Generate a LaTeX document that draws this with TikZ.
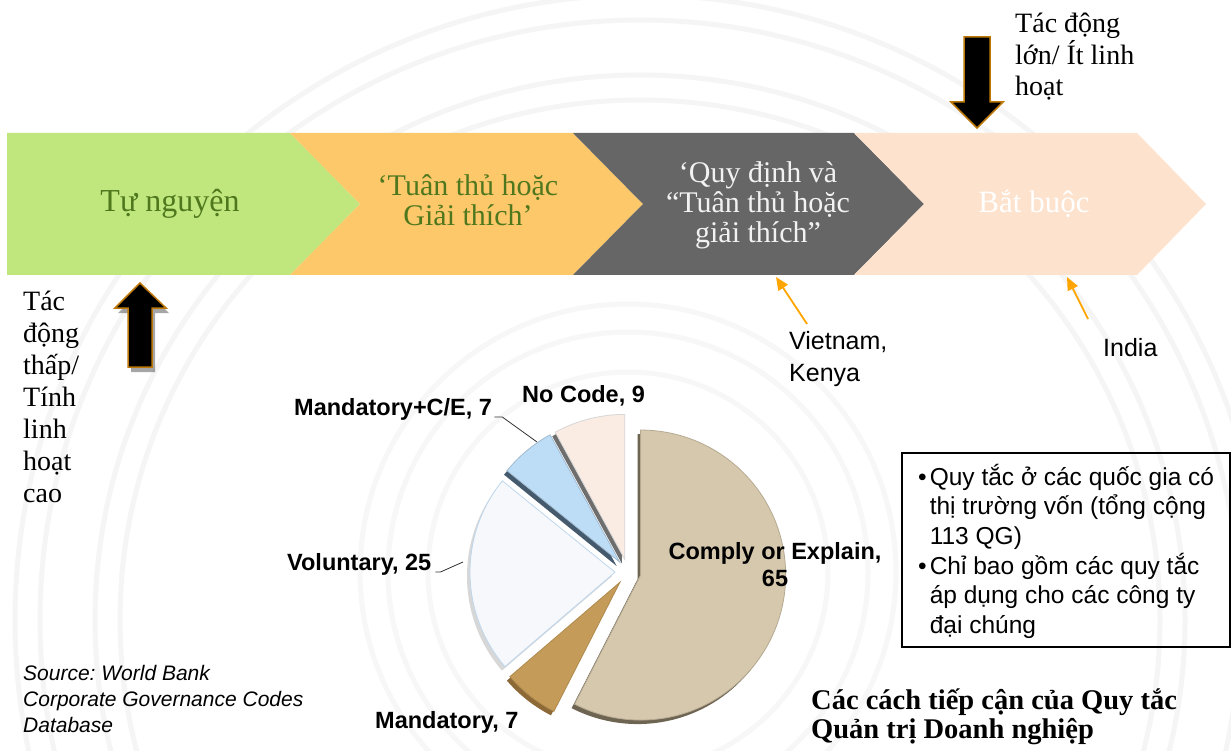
\documentclass[tikz,border=0pt]{standalone}
\usepackage{fontspec}
\setmainfont{Liberation Serif}
\setsansfont{Liberation Sans}
\usetikzlibrary{arrows.meta}
\frenchspacing
\definecolor{cgreen}{RGB}{192,231,126}
\definecolor{corange}{RGB}{253,200,106}
\definecolor{cgray}{RGB}{102,102,102}
\definecolor{cpeach}{RGB}{253,227,206}
\definecolor{gtext}{RGB}{79,120,30}
\definecolor{arrowborder}{RGB}{190,120,10}
\definecolor{lblarrow}{RGB}{255,165,0}
\definecolor{comply}{RGB}{214,200,173}
\definecolor{complyside}{RGB}{110,100,82}
\definecolor{mand}{RGB}{196,155,88}
\definecolor{mandside}{RGB}{140,105,55}
\definecolor{vol}{RGB}{246,248,251}
\definecolor{volborder}{RGB}{190,215,238}
\definecolor{volside}{RGB}{215,215,215}
\definecolor{mce}{RGB}{189,220,246}
\definecolor{mceside}{RGB}{70,90,110}
\definecolor{nocode}{RGB}{250,235,227}
\definecolor{nocodeborder}{RGB}{215,215,215}
\definecolor{nocodeside}{RGB}{110,110,110}
\newcommand\pieshadow[3]{%
  \pgfmathsetmacro\pmid{(#1+#2)/2}%
  \fill[#3, shift={(-3,-4)}] (\pmid:13) -- ++(#1:145) arc[start angle=#1,end angle=#2,radius=145] -- cycle;}
\newcommand\pieface[4]{%
  \pgfmathsetmacro\pmid{(#1+#2)/2}%
  \filldraw[fill=#3, draw=#4, line width=0.8] (\pmid:13) -- ++(#1:145) arc[start angle=#1,end angle=#2,radius=145] -- cycle;}
\begin{document}
\begin{tikzpicture}[x=1pt,y=-1pt,
  serif/.style={inner sep=0pt, font=\fontsize{30}{30}\selectfont},
  sidetext/.style={inner sep=0pt, anchor=west, align=left, font=\fontsize{28}{32}\selectfont},
  plabel/.style={inner sep=0pt, font=\sffamily\bfseries\fontsize{23.5}{27}\selectfont},
  clabel/.style={inner sep=0pt, anchor=west, align=left, font=\sffamily\fontsize{25}{32}\selectfont},
  bigarrow/.style={fill=black, draw=arrowborder, line width=1.5pt, line join=miter},
  pointer/.style={draw=lblarrow, line width=1.8pt, -{Triangle[length=13pt,width=11pt]}},
  leader/.style={draw=black!80, line width=0.8pt},
  ring/.style={black!4, line width=5pt}]
\useasboundingbox (0,0) rectangle (1231,751);
\fill[white] (0,0) rectangle (1231,751);
% faint background rings
\begin{scope}
  \clip (0,0) rectangle (1231,751);
  \foreach \r in {520,545,600,625}
    \draw[ring] (640,620) circle[radius=\r];
  \foreach \r in {200,240,268}
    \draw[ring, black!3] (628,572) circle[radius=\r];
\end{scope}
% chevrons
\fill[cgreen] (7,133) -- (290,133) -- (360,204) -- (290,275) -- (7,275) -- cycle;
\fill[corange] (290,133) -- (573,133) -- (643,204) -- (573,275) -- (290,275) -- (360,204) -- cycle;
\fill[cgray] (573,133) -- (854,133) -- (924,204) -- (854,275) -- (573,275) -- (643,204) -- cycle;
\fill[cpeach] (854,133) -- (1137,133) -- (1206,204) -- (1137,275) -- (854,275) -- (924,204) -- cycle;
\node[serif, text=gtext, font=\fontsize{32}{30}\selectfont] (s1) at (170,204) {Tự nguyện};
\node[serif, text=gtext, align=center] (s2) at (468,200) {‘Tuân thủ hoặc\\Giải thích’};
\node[serif, text=white!95!black, align=center] (s3) at (758,205) {‘Quy định và\\“Tuân thủ hoặc\\giải thích”};
\node[serif, text=white, font=\fontsize{31}{30}\selectfont] (s4) at (1034,204) {Bắt buộc};
% big arrows
\filldraw[bigarrow] (964,37) -- (990,37) -- (990,102) -- (1003,102) -- (977,128) -- (951,102) -- (964,102) -- cycle;
\fill[black, opacity=0.35] (143,288) -- (169,313) -- (155,313) -- (155,372) -- (131,372) -- (131,313) -- (118,313) -- cycle;
\filldraw[bigarrow] (140,283) -- (166,308) -- (152,308) -- (152,367) -- (128,367) -- (128,308) -- (115,308) -- cycle;
\node[sidetext, font=\fontsize{28}{31.5}\selectfont] (high) at (1015,57) {Tác động\\lớn/ Ít linh\\hoạt};
\node[sidetext] (low) at (23,397) {Tác\\động\\thấp/\\Tính\\linh\\hoạt\\cao};
% country pointers
\node[clabel] (vk) at (789,359) {Vietnam,\\Kenya};
\node[clabel] (india) at (1103,348) {India};
\coordinate (vkTail) at (807,324);
\coordinate (vkHead) at (776,277);
\coordinate (inTail) at (1088,319);
\coordinate (inHead) at (1067,277);
\draw[pointer] (vkTail) -- (vkHead);
\draw[pointer] (inTail) -- (inHead);
% pie
\begin{scope}[shift={(628,572)}, x=1pt, y=1pt]
  \pieshadow{90}{-117.08}{complyside}
  \pieshadow{-117.08}{-139.38}{mandside}
  \pieshadow{-139.38}{-219.03}{volside}
  \pieshadow{-219.03}{-241.33}{mceside}
  \pieshadow{-241.33}{-270}{nocodeside}
  \pieface{90}{-117.08}{comply}{comply!85!black}
  \pieface{-117.08}{-139.38}{mand}{mand!90!black}
  \pieface{-139.38}{-219.03}{vol}{volborder}
  \pieface{-219.03}{-241.33}{mce}{mce!85!black}
  \pieface{-241.33}{-270}{nocode}{nocodeborder}
\end{scope}
\node[plabel, anchor=west] (lmce) at (294,409) {Mandatory+C/E, 7};
\node[plabel, anchor=west] (lno) at (522,396) {No Code, 9};
\node[plabel, anchor=west] (lvol) at (287,564) {Voluntary, 25};
\node[plabel, anchor=west] (lmand) at (375,722) {Mandatory, 7};
\node[plabel, align=center] (lcomp) at (775,565) {Comply or Explain,\\65};
\coordinate (mceEnd) at (537,442);
\coordinate (volEnd) at (463,562);
\draw[leader] ([xshift=2pt,yshift=-8pt]lmce.east) -- ++(8,0) -- (mceEnd);
\draw[leader] ([xshift=4pt,yshift=-8pt]lvol.east) -- ++(5,0) -- (volEnd);
% rules box
\draw[line width=1.5pt] (902,453) rectangle (1230,647);
\node[inner sep=0pt, anchor=west, font=\sffamily\fontsize{24.5}{29.5}\selectfont] (rules) at (918,553)
  {\begin{tabular}{@{}l@{\hspace{3pt}}l@{}}
   •& Quy tắc ở các quốc gia có\\
    & thị trường vốn (tổng cộng\\
    & 113 QG)\\
   •& Chỉ bao gồm các quy tắc\\
    & áp dụng cho các công ty\\
    & đại chúng
   \end{tabular}};
% source and title
\node[inner sep=0pt, anchor=west, align=left, font=\sffamily\itshape\fontsize{21}{26}\selectfont] (src) at (23,699)
  {Source: World Bank\\Corporate Governance Codes\\Database};
\node[inner sep=0pt, anchor=west, align=left, font=\bfseries\fontsize{28.5}{29.5}\selectfont] (title) at (811,717)
  {Các cách tiếp cận của Quy tắc\\Quản trị Doanh nghiệp};
\end{tikzpicture}
\end{document}
